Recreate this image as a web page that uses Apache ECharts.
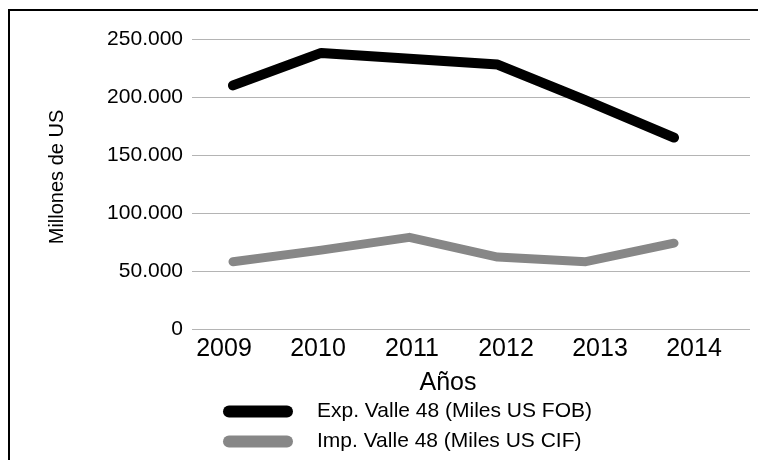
<!DOCTYPE html>
<html>
<head>
<meta charset="utf-8">
<script src="https://cdn.jsdelivr.net/npm/echarts@6/dist/echarts.min.js"></script>
<style>
html, body { margin: 0; padding: 0; background: #fff; }
#main { width: 758px; height: 460px; }
</style>
</head>
<body>
<div id="main"></div>
<script>
// datos
var years = ['2009', '2010', '2011', '2012', '2013', '2014'];
var exportaciones = [210000, 238000, 233000, 228000, 197000, 165000];
var importaciones = [58000, 68000, 79000, 62000, 58000, 74000];
var yTicks = [0, 50000, 100000, 150000, 200000, 250000];

var FONT = '"Liberation Sans", Arial, sans-serif';
var capsule = 'path://M6,0 H64 A6,6 0 0 1 64,12 H6 A6,6 0 0 1 6,0 Z';

function fmtMiles(v) {
	if (v == 0) return '0';
	return String(v).replace(/\B(?=(\d{3})+(?!\d))/g, '.');
}

var myChart = echarts.init(document.getElementById('main'), null, { renderer: 'canvas' });
myChart.setOption({
	animation: false,
	backgroundColor: '#fff',
	textStyle: { fontFamily: FONT },
	grid: [
		// rejilla y etiquetas del eje Y
		{ left: 192, right: 8, top: 39, bottom: 131 },
		// datos
		{ left: 233, right: 84, top: 39, bottom: 131 },
		// etiquetas de años
		{ left: 177, right: 17, top: 39, bottom: 131 }
	],
	xAxis: [
		{ gridIndex: 0, type: 'category', data: years, show: false },
		{ gridIndex: 1, type: 'category', data: years, boundaryGap: false, show: false },
		{
			gridIndex: 2, type: 'category', data: years, boundaryGap: true,
			axisLine: { show: false }, axisTick: { show: false },
			axisLabel: { color: '#000', fontSize: 25, margin: 8, fontFamily: FONT }
		}
	],
	yAxis: [
		{
			gridIndex: 0, type: 'value', min: yTicks[0], max: yTicks[yTicks.length - 1], interval: 50000,
			axisLine: { show: false }, axisTick: { show: false },
			axisLabel: { color: '#000', fontSize: 21, margin: 9, fontFamily: FONT, formatter: fmtMiles },
			splitLine: { lineStyle: { color: '#b4b4b4', width: 1 } }
		},
		{ gridIndex: 1, type: 'value', min: 0, max: 250000, show: false },
		{ gridIndex: 2, type: 'value', min: 0, max: 250000, show: false }
	],
	legend: {
		orient: 'vertical',
		left: 218,
		top: 396,
		itemWidth: 70,
		itemHeight: 12,
		itemGap: 9,
		textStyle: { color: '#000', fontSize: 21, fontFamily: FONT, padding: [0, 0, 0, 19] },
		data: [
			{ name: 'Exp. Valle 48 (Miles US FOB)', icon: capsule },
			{ name: 'Imp. Valle 48 (Miles US CIF)', icon: capsule }
		]
	},
	graphic: [
		{
			type: 'rect', silent: true,
			shape: { x: 9, y: 10, width: 800, height: 500 },
			style: { fill: null, stroke: '#000', lineWidth: 2 }
		},
		{
			type: 'text', x: 57, y: 177, rotation: Math.PI / 2,
			style: { text: 'Millones de US', fill: '#000', font: '20px ' + FONT, textAlign: 'center', textVerticalAlign: 'middle' }
		},
		{
			type: 'text', x: 448, y: 383,
			style: { text: 'Años', fill: '#000', font: '25px ' + FONT, textAlign: 'center', textVerticalAlign: 'middle' }
		}
	],
	series: [{
		name: 'Exp. Valle 48 (Miles US FOB)',
		type: 'line',
		xAxisIndex: 1,
		yAxisIndex: 1,
		data: exportaciones,
		symbol: 'none',
		itemStyle: { color: '#000' },
		lineStyle: { color: '#000', width: 10, cap: 'round', join: 'round' }
	}, {
		name: 'Imp. Valle 48 (Miles US CIF)',
		type: 'line',
		xAxisIndex: 1,
		yAxisIndex: 1,
		data: importaciones,
		symbol: 'none',
		itemStyle: { color: '#878787' },
		lineStyle: { color: '#878787', width: 9, cap: 'round', join: 'round' }
	}]
});
</script>
</body>
</html>
